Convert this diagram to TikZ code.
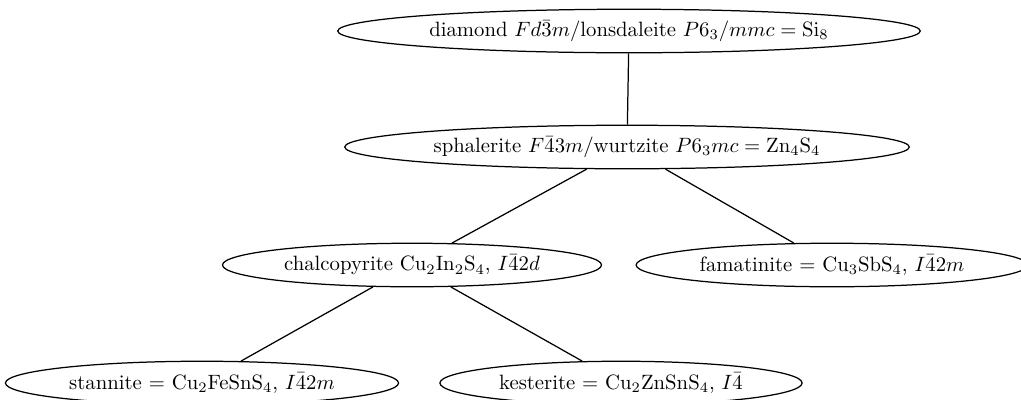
\documentclass[tikz,border=0pt]{standalone}
\usepackage{amsmath,amssymb}
\usepackage{tikz}
\usetikzlibrary{shapes.geometric}

\begin{document}
\begin{tikzpicture}[x=0.4825pt,y=-0.4825pt,
          phase/.style={draw,ellipse,line width=0.6pt,inner xsep=3pt,inner ysep=0pt,minimum height=21pt},
          link/.style={line width=0.6pt}
        ]
        \useasboundingbox (0,0) rectangle (1021,399);
        \node[phase] (si) at (629,31) {diamond $Fd\bar{3}m$/lonsdaleite $P6_3/mmc = \mathrm{Si}_8$};
        \node[phase] (zns) at (627,147) {sphalerite $F\bar{4}3m$/wurtzite $P6_3mc = \mathrm{Zn}_4\mathrm{S}_4$};
        \node[phase] (cis) at (412,265) {chalcopyrite Cu$_2$In$_2$S$_4$, $I\bar{4}2d$};
        \node[phase] (cas) at (832,265) {famatinite $=$ Cu$_3$SbS$_4$, $I\bar{4}2m$};
        \node[phase] (cfts) at (202,383) {stannite $=$ Cu$_2$FeSnS$_4$, $I\bar{4}2m$};
        \node[phase] (czts) at (621,383) {kesterite $=$ Cu$_2$ZnSnS$_4$, $I\bar{4}$};
        \draw[link] (si) -- (zns);
        \draw[link] (zns) -- (cis);
        \draw[link] (zns) -- (cas);
        \draw[link] (cis) -- (cfts);
        \draw[link] (cis) -- (czts);
      \end{tikzpicture}
\end{document}
